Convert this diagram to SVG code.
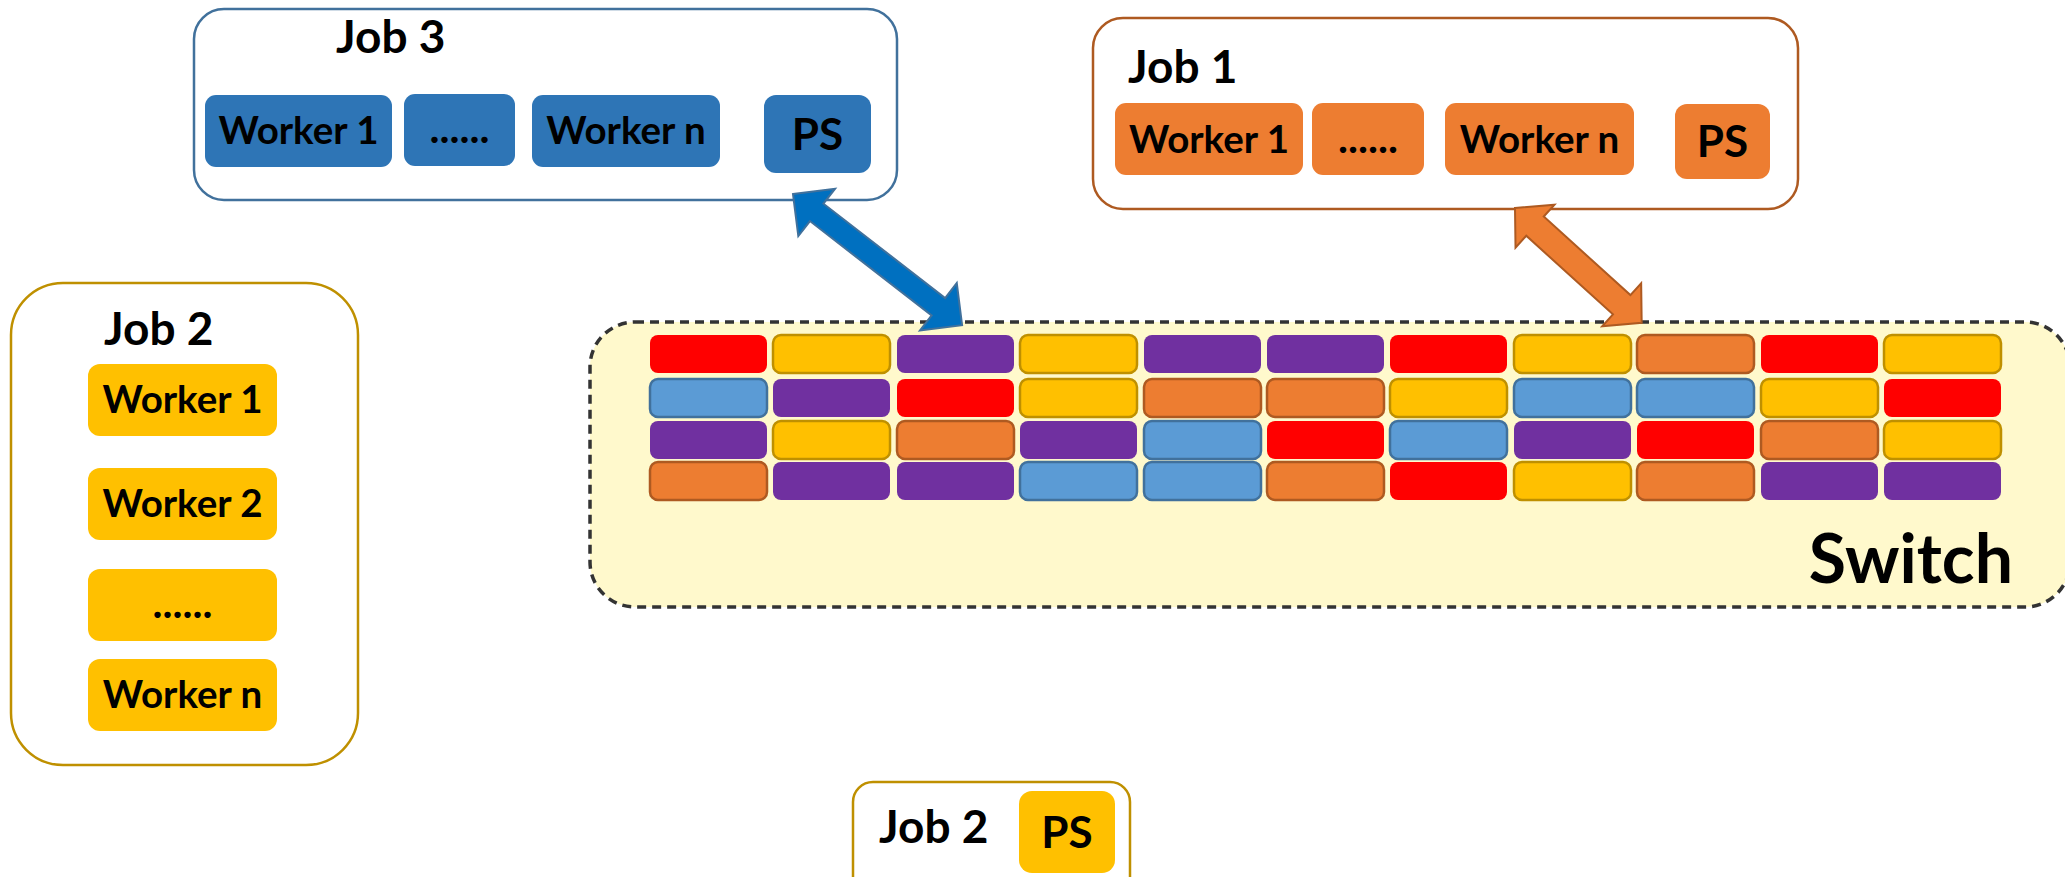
<svg xmlns="http://www.w3.org/2000/svg" width="2065" height="877" viewBox="0 0 2065 877">
  <style>
    .t { font-family: Lato, "Open Sans", "Liberation Sans", sans-serif; font-weight: bold; fill: #000; }
    .head { font-size: 46px; }
    .wk { font-size: 38.5px; text-anchor: middle; }
    .dots { font-size: 42px; text-anchor: middle; }
    .ps { font-size: 44px; text-anchor: middle; }
    .frame { fill: #fff; stroke-width: 2.5; }
    .blueU { fill: #2E75B6; }
    .orangeU { fill: #ED7D31; }
    .goldU { fill: #FFC000; }
    .r { fill: #FF0000; }
    .p { fill: #7030A0; }
    .y { fill: #FFC000; stroke: #BF9000; stroke-width: 2.5; }
    .o { fill: #ED7D31; stroke: #AE5A21; stroke-width: 2.5; }
    .b { fill: #5B9BD5; stroke: #41719C; stroke-width: 2.5; }
  </style>

  <!-- Switch with its queue slots -->
  <g id="switch">
    <rect x="590" y="322" width="1480" height="285" rx="45" fill="#FFF9CC" stroke="#333" stroke-width="3.5" stroke-dasharray="9 6"/>
    <g id="slots">
      <!-- row 1 -->
      <rect class="r" x="650" y="335" width="117" height="38" rx="8"/>
      <rect class="y" x="773" y="335" width="117" height="38" rx="8"/>
      <rect class="p" x="897" y="335" width="117" height="38" rx="8"/>
      <rect class="y" x="1020" y="335" width="117" height="38" rx="8"/>
      <rect class="p" x="1144" y="335" width="117" height="38" rx="8"/>
      <rect class="p" x="1267" y="335" width="117" height="38" rx="8"/>
      <rect class="r" x="1390" y="335" width="117" height="38" rx="8"/>
      <rect class="y" x="1514" y="335" width="117" height="38" rx="8"/>
      <rect class="o" x="1637" y="335" width="117" height="38" rx="8"/>
      <rect class="r" x="1761" y="335" width="117" height="38" rx="8"/>
      <rect class="y" x="1884" y="335" width="117" height="38" rx="8"/>
      <!-- row 2 -->
      <rect class="b" x="650" y="379" width="117" height="38" rx="8"/>
      <rect class="p" x="773" y="379" width="117" height="38" rx="8"/>
      <rect class="r" x="897" y="379" width="117" height="38" rx="8"/>
      <rect class="y" x="1020" y="379" width="117" height="38" rx="8"/>
      <rect class="o" x="1144" y="379" width="117" height="38" rx="8"/>
      <rect class="o" x="1267" y="379" width="117" height="38" rx="8"/>
      <rect class="y" x="1390" y="379" width="117" height="38" rx="8"/>
      <rect class="b" x="1514" y="379" width="117" height="38" rx="8"/>
      <rect class="b" x="1637" y="379" width="117" height="38" rx="8"/>
      <rect class="y" x="1761" y="379" width="117" height="38" rx="8"/>
      <rect class="r" x="1884" y="379" width="117" height="38" rx="8"/>
      <!-- row 3 -->
      <rect class="p" x="650" y="421" width="117" height="38" rx="8"/>
      <rect class="y" x="773" y="421" width="117" height="38" rx="8"/>
      <rect class="o" x="897" y="421" width="117" height="38" rx="8"/>
      <rect class="p" x="1020" y="421" width="117" height="38" rx="8"/>
      <rect class="b" x="1144" y="421" width="117" height="38" rx="8"/>
      <rect class="r" x="1267" y="421" width="117" height="38" rx="8"/>
      <rect class="b" x="1390" y="421" width="117" height="38" rx="8"/>
      <rect class="p" x="1514" y="421" width="117" height="38" rx="8"/>
      <rect class="r" x="1637" y="421" width="117" height="38" rx="8"/>
      <rect class="o" x="1761" y="421" width="117" height="38" rx="8"/>
      <rect class="y" x="1884" y="421" width="117" height="38" rx="8"/>
      <!-- row 4 -->
      <rect class="o" x="650" y="462" width="117" height="38" rx="8"/>
      <rect class="p" x="773" y="462" width="117" height="38" rx="8"/>
      <rect class="p" x="897" y="462" width="117" height="38" rx="8"/>
      <rect class="b" x="1020" y="462" width="117" height="38" rx="8"/>
      <rect class="b" x="1144" y="462" width="117" height="38" rx="8"/>
      <rect class="o" x="1267" y="462" width="117" height="38" rx="8"/>
      <rect class="r" x="1390" y="462" width="117" height="38" rx="8"/>
      <rect class="y" x="1514" y="462" width="117" height="38" rx="8"/>
      <rect class="o" x="1637" y="462" width="117" height="38" rx="8"/>
      <rect class="p" x="1761" y="462" width="117" height="38" rx="8"/>
      <rect class="p" x="1884" y="462" width="117" height="38" rx="8"/>
    </g>
    <text class="t" x="2013" y="583" font-size="68" text-anchor="end">Switch</text>
  </g>

  <!-- Job 3 -->
  <g id="job3">
    <rect class="frame" x="194" y="9" width="703" height="191" rx="30" stroke="#41719C"/>
    <text class="t head" x="336" y="53">Job 3</text>
    <rect class="blueU" x="205" y="95" width="187" height="72" rx="11"/>
    <text class="t wk" x="298.5" y="144">Worker 1</text>
    <rect class="blueU" x="404" y="94" width="111" height="72" rx="11"/>
    <text class="t dots" x="459.5" y="143">......</text>
    <rect class="blueU" x="532" y="95" width="188" height="72" rx="11"/>
    <text class="t wk" x="626" y="144">Worker n</text>
    <rect class="blueU" x="764" y="95" width="107" height="78" rx="12"/>
    <text class="t ps" x="817.5" y="150">PS</text>
  </g>

  <!-- Job 1 -->
  <g id="job1">
    <rect class="frame" x="1093" y="18" width="705" height="191" rx="30" stroke="#AE5A21"/>
    <text class="t head" x="1128" y="83">Job 1</text>
    <rect class="orangeU" x="1115" y="103" width="188" height="72" rx="11"/>
    <text class="t wk" x="1209" y="153">Worker 1</text>
    <rect class="orangeU" x="1312" y="103" width="112" height="72" rx="11"/>
    <text class="t dots" x="1368" y="153">......</text>
    <rect class="orangeU" x="1445" y="103" width="189" height="72" rx="11"/>
    <text class="t wk" x="1539.5" y="153">Worker n</text>
    <rect class="orangeU" x="1675" y="104" width="95" height="75" rx="12"/>
    <text class="t ps" x="1722.5" y="157">PS</text>
  </g>

  <!-- Job 2 workers -->
  <g id="job2">
    <rect class="frame" x="11" y="283" width="347" height="482" rx="52" stroke="#BF9000"/>
    <text class="t head" x="104" y="345">Job 2</text>
    <rect class="goldU" x="88" y="364" width="189" height="72" rx="12"/>
    <text class="t wk" x="182.5" y="413">Worker 1</text>
    <rect class="goldU" x="88" y="468" width="189" height="72" rx="12"/>
    <text class="t wk" x="182.5" y="517">Worker 2</text>
    <rect class="goldU" x="88" y="569" width="189" height="72" rx="12"/>
    <text class="t dots" x="182.5" y="618">......</text>
    <rect class="goldU" x="88" y="659" width="189" height="72" rx="12"/>
    <text class="t wk" x="182.5" y="708">Worker n</text>
  </g>

  <!-- Job 2 parameter server -->
  <g id="job2-ps">
    <rect class="frame" x="853" y="782" width="277" height="115" rx="20" stroke="#BF9000"/>
    <text class="t head" x="879" y="843">Job 2</text>
    <rect class="goldU" x="1019" y="791" width="96" height="82" rx="13"/>
    <text class="t ps" x="1067" y="848">PS</text>
  </g>

  <!-- Connectors: double-headed block arrows -->
  <g id="connectors">
    <polygon transform="translate(793,194) rotate(37.8)" fill="#0070C0" stroke="#41719C" stroke-width="2" stroke-linejoin="miter"
      points="0,0 30,-30 30,-11 184,-11 184,-30 214,0 184,30 184,11 30,11 30,30"/>
    <polygon transform="translate(1515,208) rotate(42.2)" fill="#ED7D31" stroke="#AE5A21" stroke-width="2" stroke-linejoin="miter"
      points="0,0 27,-29 27,-13 144,-13 144,-29 171,0 144,29 144,13 27,13 27,29"/>
  </g>
</svg>
